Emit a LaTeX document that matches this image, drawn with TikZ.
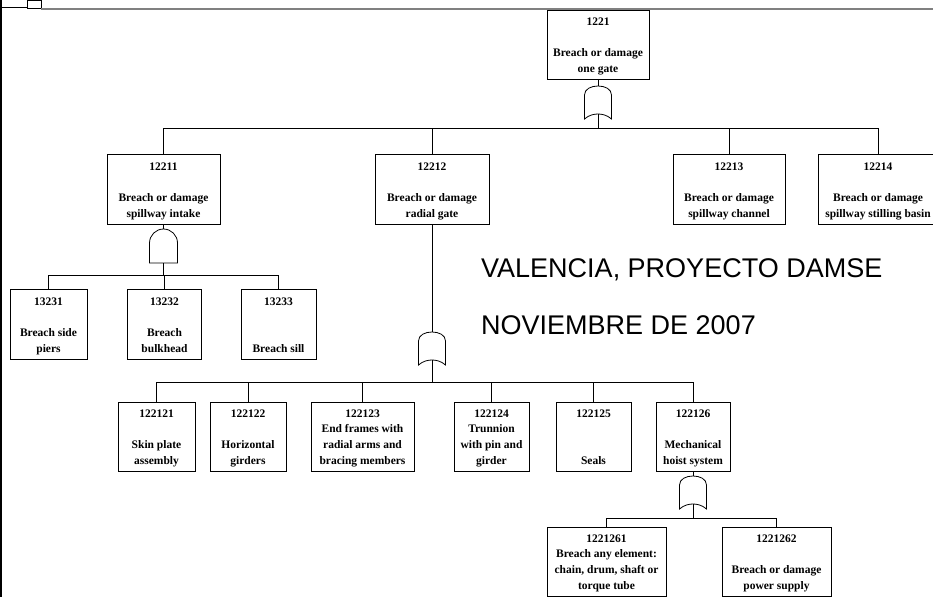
\documentclass[tikz,border=0pt]{standalone}
\usepackage{fontspec}
\setmainfont{Liberation Serif}
\newfontfamily\headfont{Liberation Sans}
\usetikzlibrary{calc}

\tikzset{
  wire/.style={line width=0.8pt, black},
  bus/.style={line width=1pt, black},
  fbox/.style={draw, line width=0.8pt, inner sep=0pt, fill=white},
  idtxt/.style={inner sep=0pt, font=\fontsize{11.5}{14}\selectfont\bfseries},
  desctxt/.style={inner sep=0pt, align=center, font=\fontsize{11.5}{15.9}\selectfont\bfseries},
  captxt/.style={anchor=west, inner sep=0pt, font=\headfont\fontsize{27}{31}\selectfont},
  gate/.style={draw, line width=0.8pt, fill=white},
  orgate/.pic={
    \draw[gate] (-13.5,33) -- (-13.5,9)
      .. controls (-13.5,3) and (-7,0) .. (0,0)
      .. controls (7,0) and (13.5,3) .. (13.5,9)
      -- (13.5,33)
      .. controls (9,29) and (4,28) .. (0,28)
      .. controls (-4,28) and (-9,29) .. (-13.5,33) -- cycle;
    \coordinate (-in) at (0,0);
    \coordinate (-out) at (0,28);
  },
  andgate/.pic={
    \draw[gate] (-14,34) -- (-14,14)
      .. controls (-14,6.3) and (-7.7,0) .. (0,0)
      .. controls (7.7,0) and (14,6.3) .. (14,14)
      -- (14,34) -- cycle;
    \coordinate (-in) at (0,0);
    \coordinate (-out) at (0,34);
  }
}

% event box: name, centre x, top y, width, height, code, description
\newcommand\evbox[7]{%
  \node[fbox, anchor=north, minimum width=#4pt, minimum height=#5pt] (#1) at (#2,#3) {};
  \node[idtxt, anchor=base] (#1-id) at (#2,#3+16) {#6};
  \node[desctxt, anchor=south] (#1-txt) at (#2,#3+#5-1.5) {#7\strut};
}

\begin{document}
\begin{tikzpicture}[x=1pt,y=-1pt]
\useasboundingbox (0,0) rectangle (933,597);
\clip (0,0) rectangle (933,597);

% frame
\draw[line width=1.5pt] (1,0) -- (1,597);
\draw[line width=1pt] (0,7) -- (27,7);
\draw[line width=1pt] (27,0) rectangle (41,8);
\draw[line width=1.6pt, gray] (41,8.7) -- (933,8.7);

% events
\evbox{e1221}{598}{9.5}{102}{69.5}{1221}{Breach or damage\\one gate}

\evbox{e12211}{163.5}{154}{113}{70}{12211}{Breach or damage\\spillway intake}
\evbox{e12212}{432}{154}{114}{70}{12212}{Breach or damage\\radial gate}
\evbox{e12213}{729}{154}{112}{70}{12213}{Breach or damage\\spillway channel}
\evbox{e12214}{878}{154}{120}{70}{12214}{Breach or damage\\spillway stilling basin}

\evbox{e13231}{48.5}{289}{77}{70}{13231}{Breach side\\piers}
\evbox{e13232}{164.5}{289}{74}{70}{13232}{Breach\\bulkhead}
\evbox{e13233}{278.5}{289}{75}{70}{13233}{Breach sill}

\evbox{e122121}{156.5}{401.7}{77}{69.3}{122121}{Skin plate\\assembly}
\evbox{e122122}{248}{401.7}{76}{69.3}{122122}{Horizontal\\girders}
\evbox{e122123}{362.5}{401.7}{103}{69.3}{122123}{End frames with\\radial arms and\\bracing members}
\evbox{e122124}{491.5}{401.7}{75}{69.3}{122124}{Trunnion\\with pin and\\girder}
\evbox{e122125}{593.5}{401.7}{75}{69.3}{122125}{Seals}
\evbox{e122126}{693}{401.7}{74}{69.3}{122126}{Mechanical\\hoist system}

\evbox{e1221261}{606.5}{526.7}{119}{69}{1221261}{Breach any element:\\chain, drum, shaft or\\torque tube}
\evbox{e1221262}{776.5}{526.7}{109}{69}{1221262}{Breach or damage\\power supply}

% gates
\pic (g1221) at (598,86) {orgate};
\pic (g12211) at (163.5,229) {andgate};
\pic (g12212) at (432,332) {orgate};
\pic (g122126) at (693,476) {orgate};

% bus points
\coordinate (b1221) at (598,128);
\coordinate (b12211) at (163.5,275);
\coordinate (b12212) at (432,382);
\coordinate (b122126) at (693,518);

% connectors
\draw[wire] (e1221.south) -- (g1221-in);
\draw[wire] (g1221-out) -- (b1221);
\foreach \c in {e12211,e12212,e12213,e12214}
  \draw[wire] (b1221) -| (\c.north);

\draw[wire] (e12211.south) -- (g12211-in);
\draw[wire] (g12211-out) -- (b12211);
\foreach \c in {e13231,e13232,e13233}
  \draw[wire] (b12211) -| (\c.north);

\draw[wire] (e12212.south) -- (g12212-in);
\draw[bus] (g12212-out) -- (b12212);
\foreach \c in {e122121,e122122,e122123,e122124,e122125,e122126}
  \draw[wire] (b12212) -| (\c.north);

\draw[wire] (e122126.south) -- (g122126-in);
\draw[wire] (g122126-out) -- (b122126);
\foreach \c in {e1221261,e1221262}
  \draw[wire] (b122126) -| (\c.north);

% caption
\node[captxt] (cap1) at (481,270) {VALENCIA, PROYECTO DAMSE};
\node[captxt] (cap2) at (481,325) {NOVIEMBRE DE 2007};
\end{tikzpicture}
\end{document}
